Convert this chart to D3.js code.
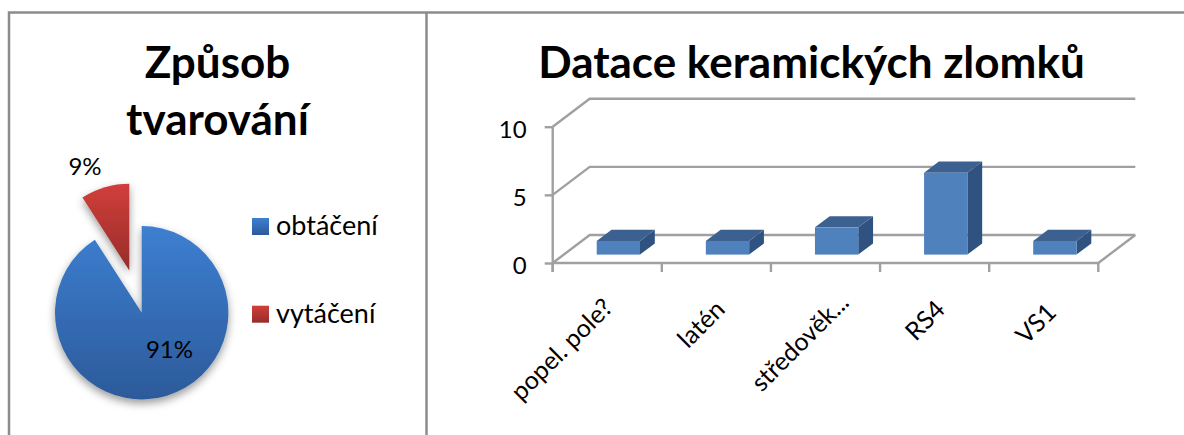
<!DOCTYPE html>
<html>
<head>
    <meta charset="utf-8">
    <script src="https://cdn.jsdelivr.net/npm/d3@7"></script>
    <style>
        html,body{margin:0;padding:0;background:#fff;overflow:hidden;}
        text{font-family:Lato,"Noto Sans",sans-serif;fill:#000;}
        .title{font-weight:bold;font-size:44px;text-anchor:middle;}
        .lab{font-size:24px;}
        .leglab{font-size:27px;}
        .xl{font-size:25px;text-anchor:end;}
        .grid{stroke:#a0a0a0;stroke-width:2.4;fill:none;}
        .frame{stroke:#8c8c8c;stroke-width:2.5;fill:none;}
    </style>
</head>
<body>
<script>
    var pieLabels=['obtáčení','vytáčení'],
        pieValues=[10,1],
        pieText=['91%','9%'];

    var categories=['popel. pole?','latén','středověk...','RS4','VS1'],
        barValues=[1,1,2,6,1],
        yTicks=[0,5,10];

    var w=1184,h=435;
    var svg=d3.select('body').append('svg').attr('width',w).attr('height',h).style('display','block');
    var defs=svg.append('defs');

    function grad(id,top,bottom){
        var g=defs.append('linearGradient').attr('id',id).attr('x1',0).attr('y1',0).attr('x2',0).attr('y2',1);
        g.append('stop').attr('offset','0%').attr('stop-color',top);
        g.append('stop').attr('offset','100%').attr('stop-color',bottom);
    }
    grad('gblue','#3d7fd1','#2c5a9a');
    grad('gred','#d13f3b','#972c29');
    defs.append('filter').attr('id','shadow').attr('x','-20%').attr('y','-20%').attr('width','140%').attr('height','140%')
        .append('feDropShadow').attr('dx',0).attr('dy',4).attr('stdDeviation',4).attr('flood-color','#000').attr('flood-opacity',0.4);

    //frames
    svg.append('path').attr('class','frame').attr('d','M9 435V12.5H1184');
    svg.append('path').attr('class','frame').attr('d','M426.5 12.5V435');

    //left chart
    svg.append('text').attr('class','title').attr('x',217.5).attr('y',78).text('Způsob');
    svg.append('text').attr('class','title').attr('x',217.5).attr('y',135).text('tvarování');

    var cx=141.7,cy=312.7,r=86.7,explode=44;
    var pie=d3.pie().sort(null)(pieValues);
    var arc=d3.arc().innerRadius(0).outerRadius(r);
    var fills=['url(#gblue)','url(#gred)'];
    var pieG=svg.append('g').attr('transform','translate('+cx+','+cy+')');
    pieG.selectAll('path').data(pie).enter().append('path')
        .attr('d',arc)
        .attr('fill',function(d,i){return fills[i]})
        .attr('filter','url(#shadow)')
        .attr('transform',function(d,i){
            if(i==0)return null;
            var a=(d.startAngle+d.endAngle)/2;
            return 'translate('+(Math.sin(a)*explode)+','+(-Math.cos(a)*explode)+')';
        });
    svg.append('text').attr('class','lab').attr('x',169.5).attr('y',358).attr('text-anchor','middle').text(pieText[0]);
    svg.append('text').attr('class','lab').attr('x',85).attr('y',175).attr('text-anchor','middle').text(pieText[1]);

    var legY=d3.scalePoint().domain(pieLabels).range([218,305.7]);
    var leg=svg.selectAll('.leg').data(pieLabels).enter().append('g').attr('class','leg')
        .attr('transform',function(d){return 'translate(252,'+legY(d)+')'});
    leg.append('rect').attr('width',17).attr('height',17).attr('fill',function(d,i){return fills[i]});
    leg.append('text').attr('class','leglab').attr('x',24).attr('y',17).text(function(d){return d});

    //right chart
    svg.append('text').attr('class','title').attr('x',811.5).attr('y',78).text('Datace keramických zlomků');

    var x=d3.scaleBand().domain(categories).range([552.7,1098.3]);
    var y=d3.scaleLinear().domain([0,10]).range([263,126.7]);
    var depthX=37,depthY=-28;

    //back wall and side gridlines
    svg.selectAll('.wall').data(yTicks).enter().append('path').attr('class','grid wall')
        .attr('d',function(d){
            return 'M'+x.range()[0]+' '+y(d)+'l'+depthX+' '+depthY+'H'+(x.range()[1]+depthX);
        });
    svg.append('path').attr('class','grid')
        .attr('d','M'+x.range()[0]+' '+y(0)+'H'+x.range()[1]+'l'+depthX+' '+depthY);

    var yAxis=d3.axisLeft(y).tickValues(yTicks).tickSize(8);
    var yg=svg.append('g').attr('transform','translate('+x.range()[0]+',0)').call(yAxis);
    var xTicks=categories.map(function(d){return x(d)}).concat(x.range()[1]);
    svg.selectAll('.xt').data(xTicks).enter().append('line').attr('class','grid xt')
        .attr('x1',function(d){return d}).attr('x2',function(d){return d})
        .attr('y1',y(0)).attr('y2',y(0)+9);
    yg.selectAll('path,line').attr('stroke','#a0a0a0').attr('stroke-width',2.4);
    yg.selectAll('text').attr('x',-26).attr('dy','0.45em').style('font-size','24px').style('font-family','Lato');
    yg.select('.domain').attr('d','M0 '+y(10)+'V'+(y(0)+9));

    //bars sit between 0.3 and 0.7 of the floor depth
    var barW=43.3,d0=0.3,d1=0.4;
    var bars=svg.selectAll('.bar').data(barValues).enter().append('g').attr('class','bar')
        .attr('transform',function(d,i){
            return 'translate('+(x(categories[i])+depthX*d0+(x.bandwidth()-barW)/2)+','+(depthY*d0)+')';
        });
    var bw=depthX*d1,bh=depthY*d1;
    bars.append('path').attr('fill','#2f5280').attr('d',function(d){
        return 'M'+barW+' '+y(d)+'l'+bw+' '+bh+'V'+(y(0)+bh)+'l'+(-bw)+' '+(-bh)+'Z';
    });
    bars.append('path').attr('fill','#3c6191').attr('d',function(d){
        return 'M0 '+y(d)+'l'+bw+' '+bh+'h'+barW+'l'+(-bw)+' '+(-bh)+'Z';
    });
    bars.append('rect').attr('fill','#4f81bd').attr('width',barW)
        .attr('y',function(d){return y(d)}).attr('height',function(d){return y(0)-y(d)});

    //rotated labels, end of baseline relative to the band centre
    var labelDx=[7,10,25,12,14],
        labelY=[309,311,304,311,314];
    svg.selectAll('.xl').data(categories).enter().append('text').attr('class','xl')
        .attr('transform',function(d,i){
            return 'translate('+(x(d)+x.bandwidth()/2+labelDx[i])+','+labelY[i]+') rotate(-45)';
        })
        .text(function(d){return d});
</script>
</body>
</html>
